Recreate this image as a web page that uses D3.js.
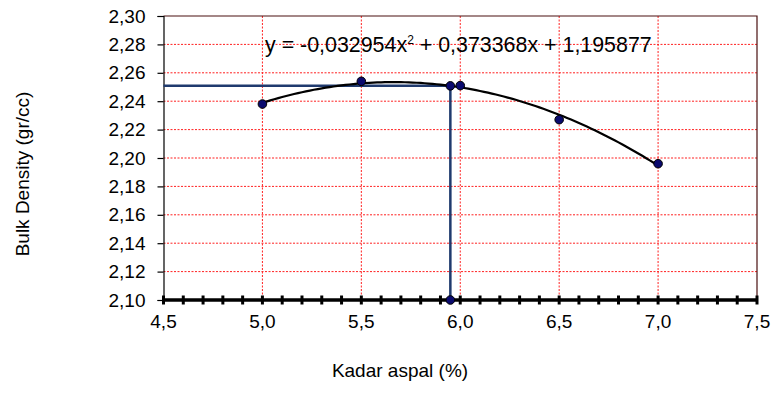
<!DOCTYPE html>
<html>
<head>
<meta charset="utf-8">
<script src="https://cdn.jsdelivr.net/npm/d3@7"></script>
<style>
  body { margin: 0; background: #fff; }
  text { font-family: "Liberation Sans", Arial, sans-serif; fill: #000; }
</style>
</head>
<body>
<div id="chart"></div>
<script>
// data
var kadar = [5.0, 5.5, 6.0, 6.5, 7.0];
var density = [2.238, 2.254, 2.251, 2.227, 2.196];
// polynomial trendline coefficients (from the equation label)
var coefA = -0.032954, coefB = 0.373368, coefC = 1.195877;
// optimum guide line
var optX = [4.5, 5.95, 5.95];
var optY = [2.2508, 2.2508, 2.10];
var xTicks = [4.5, 5.0, 5.5, 6.0, 6.5, 7.0, 7.5];
var yTicks = [2.10, 2.12, 2.14, 2.16, 2.18, 2.20, 2.22, 2.24, 2.26, 2.28, 2.30];

var W = 771, H = 411;
var margin = {top: 16, right: 14, bottom: 111, left: 163.5};

var svg = d3.select("#chart").append("svg")
  .attr("width", W).attr("height", H);
svg.append("rect").attr("width", W).attr("height", H).attr("fill", "#fff");

var x = d3.scaleLinear().domain([4.5, 7.5]).range([margin.left, W - margin.right]);
var y = d3.scaleLinear().domain([2.10, 2.30]).range([H - margin.bottom, margin.top]);

var comma = function(d, n) { return d.toFixed(n).replace(".", ","); };

// gridlines
svg.append("g").selectAll("line").data(yTicks.slice(1, -1)).enter().append("line")
  .attr("x1", x(4.5)).attr("x2", x(7.5))
  .attr("y1", d => y(d)).attr("y2", d => y(d))
  .attr("stroke", "#ff2020").attr("stroke-width", 1).attr("stroke-dasharray", "2,1.5");
svg.append("g").selectAll("line").data(xTicks.slice(1, -1)).enter().append("line")
  .attr("x1", d => x(d)).attr("x2", d => x(d))
  .attr("y1", y(2.30)).attr("y2", y(2.10))
  .attr("stroke", "#ff2020").attr("stroke-width", 1).attr("stroke-dasharray", "2,1.5");

// plot border (top/right)
svg.append("path")
  .attr("d", "M" + x(4.5) + "," + y(2.30) + "H" + x(7.5) + "V" + y(2.10))
  .attr("fill", "none").attr("stroke", "#4a1010").attr("stroke-width", 1.2);

// y axis
var yAxis = svg.append("g")
  .attr("transform", "translate(" + x(4.5) + ",0)")
  .call(d3.axisLeft(y).tickValues(yTicks).tickSize(6).tickPadding(12).tickFormat(d => comma(d, 2)));
yAxis.select(".domain").attr("stroke", "#000").attr("stroke-width", 1.2);
yAxis.selectAll(".tick line").attr("stroke", "#000").attr("stroke-width", 1.2);
yAxis.selectAll("text").attr("font-size", 19).attr("font-family", "Liberation Sans, Arial, sans-serif").attr("fill", "#000");

// x axis: thick line with crossing ticks
var minor = d3.range(45, 76).map(d => d / 10);
svg.append("line")
  .attr("x1", x(4.5)).attr("x2", x(7.5)).attr("y1", y(2.10)).attr("y2", y(2.10))
  .attr("stroke", "#000").attr("stroke-width", 3.5);
svg.append("g").selectAll("line").data(minor).enter().append("line")
  .attr("x1", d => x(d)).attr("x2", d => x(d))
  .attr("y1", y(2.10) - 4.5).attr("y2", y(2.10) + 4.5)
  .attr("stroke", "#000").attr("stroke-width", 3);
svg.append("g").selectAll("text").data(xTicks).enter().append("text")
  .attr("x", d => x(d)).attr("y", y(2.10) + 28)
  .attr("text-anchor", "middle").attr("font-size", 19)
  .text(d => comma(d, 1));

// optimum guide line
var line = d3.line().x(d => x(d[0])).y(d => y(d[1]));
var optPts = optX.map((d, i) => [d, optY[i]]);
svg.append("path").datum(optPts).attr("d", line)
  .attr("fill", "none").attr("stroke", "#1f3a6e").attr("stroke-width", 2.5);

// trendline
var trend = d3.range(5.0, 7.001, 0.02).map(v => [v, coefA * v * v + coefB * v + coefC]);
svg.append("path").datum(trend).attr("d", line)
  .attr("fill", "none").attr("stroke", "#000").attr("stroke-width", 2.2);

// markers
var pts = kadar.map((d, i) => [d, density[i]]).concat(optPts.slice(1));
svg.append("g").selectAll("circle").data(pts).enter().append("circle")
  .attr("cx", d => x(d[0])).attr("cy", d => y(d[1])).attr("r", 4.3)
  .attr("fill", "#0a0a6e").attr("stroke", "#000").attr("stroke-width", 1);

// equation
var eq = svg.append("text").attr("x", 265).attr("y", 52).attr("font-size", 21.4);
eq.append("tspan").text("y = -0,032954x");
eq.append("tspan").attr("font-size", 12).attr("dy", -8).text("2");
eq.append("tspan").attr("dy", 8).text(" + 0,373368x + 1,195877");

// axis titles
svg.append("text")
  .attr("transform", "translate(29," + 174 + ") rotate(-90)")
  .attr("text-anchor", "middle").attr("font-size", 19)
  .text("Bulk Density (gr/cc)");
svg.append("text")
  .attr("x", 400).attr("y", 377).attr("text-anchor", "middle").attr("font-size", 19)
  .text("Kadar aspal (%)");
</script>
</body>
</html>
